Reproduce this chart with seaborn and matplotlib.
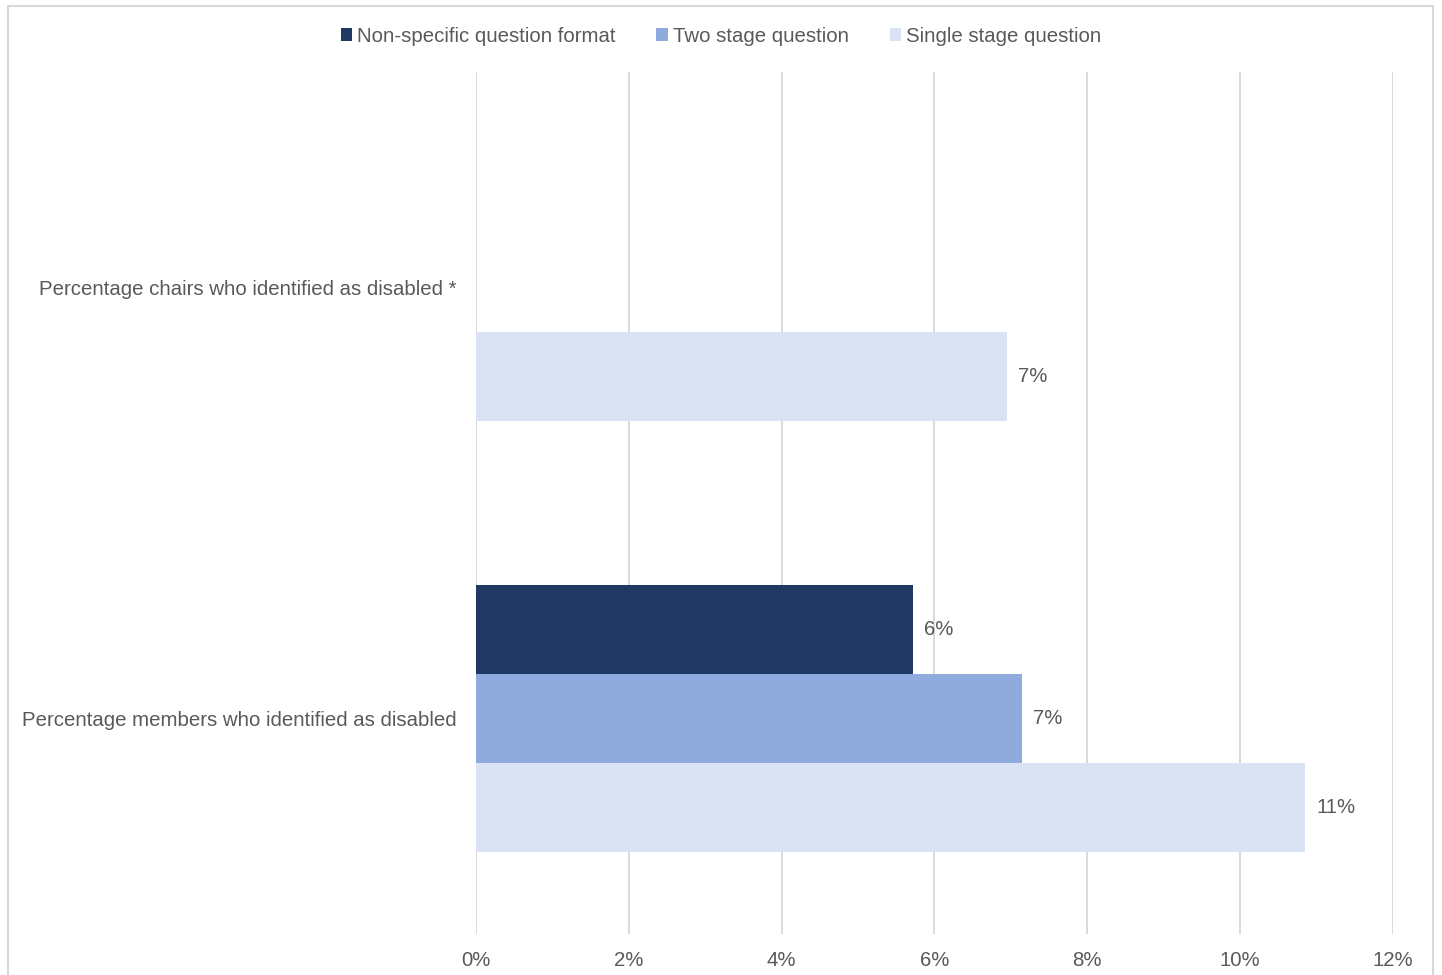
import matplotlib
matplotlib.use("Agg")
import matplotlib.pyplot as plt
from matplotlib.patches import Rectangle
import pandas as pd
import seaborn as sns

# Share of chairs / members identifying as disabled, by question format
categories = [
    "Percentage chairs who identified as disabled *",
    "Percentage members who identified as disabled",
]
formats = ["Non-specific question format", "Two stage question", "Single stage question"]
chairs_values = [None, None, 6.95]
members_values = [5.72, 7.14, 10.85]
colors = ["#203864", "#8FAADC", "#DAE3F3"]
x_ticks = [0, 2, 4, 6, 8, 10, 12]

rows = []
for cat, vals in zip(categories, [chairs_values, members_values]):
    for fmt, v in zip(formats, vals):
        if v is not None:
            rows.append({"category": cat, "format": fmt, "value": v})
df = pd.DataFrame(rows)

sns.set_theme(style="white")
plt.rcParams["font.family"] = ["Liberation Sans", "DejaVu Sans"]
text_color = "#595959"
grid_color = "#D9D9D9"
fs = 14.7

fig = plt.figure(figsize=(14.42, 9.75), dpi=100)
ax = fig.add_axes([0.330, 0.042, 0.636, 0.884])

sns.barplot(
    data=df, y="category", x="value", hue="format",
    order=categories, hue_order=formats, palette=colors,
    orient="h", width=0.62, errorbar=None, saturation=1,
    linewidth=0, ax=ax,
)

for container in ax.containers:
    ax.bar_label(container, labels=[f"{v:.0f}%" for v in container.datavalues],
                 padding=8, fontsize=fs, color=text_color)

ax.set_xlim(0, 12)
ax.set_ylim(1.5, -0.5)
ax.set_xticks(x_ticks)
ax.set_xticklabels([f"{t}%" for t in x_ticks])
ax.set_xlabel("")
ax.set_ylabel("")
ax.grid(axis="x", color=grid_color, linewidth=1.4)
ax.set_axisbelow(True)
for s in ax.spines.values():
    s.set_visible(False)
ax.tick_params(axis="x", length=0, pad=12, labelsize=fs, labelcolor=text_color)
ax.tick_params(axis="y", length=0, pad=14, labelsize=fs, labelcolor=text_color)

handles, labels = ax.get_legend_handles_labels()
ax.get_legend().remove()
fig.legend(handles, labels, loc="center", bbox_to_anchor=(0.5, 0.963), ncol=3,
           frameon=False, fontsize=fs, labelcolor=text_color,
           handlelength=0.55, handleheight=0.55, handletextpad=0.25,
           columnspacing=2.0)

# Chart frame
fig.patches.append(Rectangle((8 / 1442, -0.01), (1433 - 8) / 1442, 1 - 6 / 975 + 0.01,
                             transform=fig.transFigure, fill=False,
                             edgecolor=grid_color, linewidth=1.5))

fig.savefig("out.png", dpi=100)
